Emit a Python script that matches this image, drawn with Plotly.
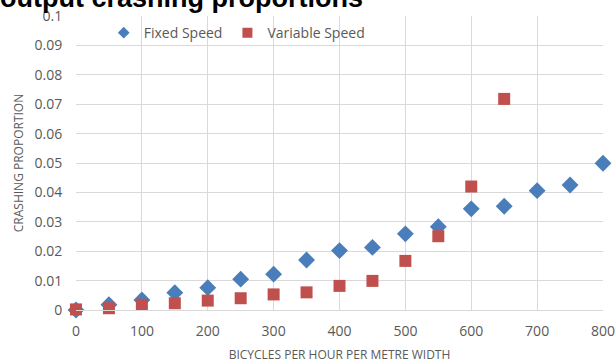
import plotly.graph_objects as go

fixed_x = [0, 50, 100, 150, 200, 250, 300, 350, 400, 450, 500, 550, 600, 650, 700, 750, 800]
fixed_y = [0.0, 0.0018, 0.0034, 0.0059, 0.0076, 0.0105, 0.0122, 0.0170, 0.0202, 0.0213,
           0.0259, 0.0283, 0.0344, 0.0353, 0.0406, 0.0425, 0.0499]
var_x = [0, 50, 100, 150, 200, 250, 300, 350, 400, 450, 500, 550, 600, 650]
var_y = [0.0002, 0.0006, 0.0018, 0.0023, 0.0032, 0.0040, 0.0053, 0.0060, 0.0082, 0.0099,
         0.0167, 0.0251, 0.0420, 0.0718]

x_ticks = [0, 100, 200, 300, 400, 500, 600, 700, 800]
y_ticks = [0, 0.01, 0.02, 0.03, 0.04, 0.05, 0.06, 0.07, 0.08, 0.09, 0.1]
y_tick_text = ["0", "0.01", "0.02", "0.03", "0.04", "0.05", "0.06", "0.07", "0.08", "0.09", "0.1"]

GRAY = "#595959"
GRID = "#d9d9d9"
FONT = "Open Sans"
BLUE = "#4a7ebb"
RED = "#c0504d"

fig = go.Figure()
fig.add_trace(go.Scatter(x=fixed_x, y=fixed_y, mode="markers", name="Fixed Speed",
                         marker=dict(symbol="diamond", size=13, color=BLUE),
                         cliponaxis=False, showlegend=False, legendgroup="f"))
fig.add_trace(go.Scatter(x=var_x, y=var_y, mode="markers", name="Variable Speed",
                         marker=dict(symbol="square", size=12, color=RED),
                         cliponaxis=False, showlegend=False, legendgroup="v"))
# legend entries with the smaller legend-sized symbols
fig.add_trace(go.Scatter(x=[None], y=[None], mode="markers", name="Fixed Speed",
                         marker=dict(symbol="diamond", size=9, color=BLUE), legendgroup="f"))
fig.add_trace(go.Scatter(x=[None], y=[None], mode="markers", name="Variable Speed",
                         marker=dict(symbol="square", size=10, color=RED), legendgroup="v"))

fig.update_layout(
    width=616, height=363,
    margin=dict(l=76, r=13, t=16, b=53, autoexpand=False),
    plot_bgcolor="white", paper_bgcolor="white",
    font=dict(family=FONT, color=GRAY, size=13),
    showlegend=True,
    legend=dict(orientation="h", x=0.305, y=0.942, xanchor="center", yanchor="middle",
                font=dict(size=14, color=GRAY), itemwidth=30, bgcolor="rgba(0,0,0,0)"),
    xaxis=dict(range=[0, 800], tickvals=x_ticks, showgrid=True, gridcolor=GRID, gridwidth=1,
               zeroline=False, showline=True, linecolor=GRID, linewidth=1, automargin=False,
               ticks="outside", ticklen=8, tickcolor="rgba(0,0,0,0)",
               tickfont=dict(size=14, color=GRAY, family=FONT),
               title=dict(text="BICYCLES PER HOUR PER METRE WIDTH", standoff=12,
                          font=dict(size=12, color=GRAY, family=FONT))),
    yaxis=dict(range=[0, 0.1], tickvals=y_ticks, ticktext=y_tick_text, showgrid=True,
               gridcolor=GRID, gridwidth=1, zeroline=False, showline=False, automargin=False,
               ticks="outside", ticklen=10, tickcolor="rgba(0,0,0,0)",
               tickfont=dict(size=14, color=GRAY, family=FONT),
               title=dict(text="CRASHING PROPORTION", standoff=8,
                          font=dict(size=12, color=GRAY, family=FONT))),
)

fig.add_annotation(text="<b>output crashing proportions</b>", xref="paper", yref="paper",
                   x=-0.148, y=1.0, xanchor="left", yanchor="bottom", yshift=1,
                   showarrow=False, font=dict(family="Liberation Sans", size=27, color="black"))

fig.write_html("out.html", config={"displayModeBar": False},
               post_script="document.body.style.margin='0';")
